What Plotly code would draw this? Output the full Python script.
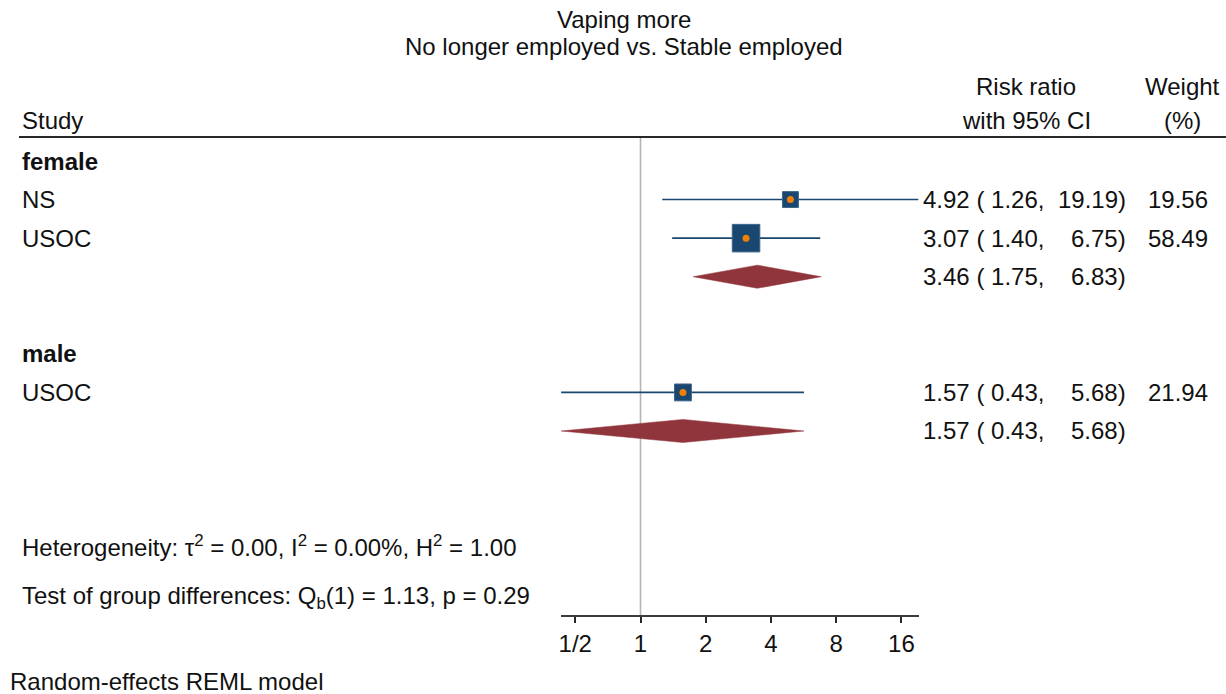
import numpy as np
import plotly.graph_objects as go

# study level data
groups = ['female', 'female', 'male']
studies = ['NS', 'USOC', 'USOC']
rr = [4.92, 3.07, 1.57]
rr_lo = [1.26, 1.40, 0.43]
rr_hi = [19.19, 6.75, 5.68]
weight = [19.56, 58.49, 21.94]

# subgroup (random-effects) summaries
group_names = ['female', 'male']
g_rr = [3.46, 1.57]
g_lo = [1.75, 0.43]
g_hi = [6.83, 5.68]

tick_vals = [0.5, 1, 2, 4, 8, 16]
tick_text = ['1/2', '1', '2', '4', '8', '16']

W, H = 1226, 694
FONT = 'Liberation Sans, Arial, sans-serif'
NAVY = 'rgb(26,71,111)'
MAROON = 'rgb(144,53,59)'
ORANGE = 'rgb(238,128,8)'
FS = 24

# row layout: group header, studies, diamond, blank line
rows = []  # (kind, index)
for gi, g in enumerate(group_names):
    rows.append(('head', gi))
    for si, sg in enumerate(groups):
        if sg == g:
            rows.append(('study', si))
    rows.append(('diamond', gi))
    rows.append(('blank', None))

study_row = {}
group_row = {}
head_row = {}
for r, (kind, idx) in enumerate(rows):
    if kind == 'study':
        study_row[idx] = r
    elif kind == 'diamond':
        group_row[idx] = r
    elif kind == 'head':
        head_row[idx] = r

# pixel helpers for the layout (not data)
def px(x):
    return x / W

def py(y):
    return 1 - y / H

row0_px, row_step = 161, 38.57
top_px, axis_px = 137, 615
y_top = (top_px - row0_px) / row_step
y_bot = (axis_px - row0_px) / row_step

fig = go.Figure()

# confidence interval lines
cx, cy = [], []
for i in range(len(studies)):
    cx += [rr_lo[i], rr_hi[i], None]
    cy += [study_row[i], study_row[i], None]
fig.add_trace(go.Scatter(x=cx, y=cy, mode='lines', line=dict(color=NAVY, width=1.6),
                         hoverinfo='skip', cliponaxis=False))

# weight boxes
fig.add_trace(go.Scatter(
    x=rr, y=[study_row[i] for i in range(len(studies))], mode='markers',
    marker=dict(symbol='square', color=NAVY, opacity=1,
                size=[3.6 * np.sqrt(w) for w in weight],
                line=dict(color='rgb(60,100,140)', width=1)),
    hoverinfo='skip', cliponaxis=False))
fig.add_trace(go.Scatter(
    x=rr, y=[study_row[i] for i in range(len(studies))], mode='markers',
    marker=dict(symbol='circle', color=ORANGE, size=7, opacity=1),
    hoverinfo='skip', cliponaxis=False))

# subgroup diamonds
h = 0.3
for gi in range(len(group_names)):
    r = group_row[gi]
    fig.add_trace(go.Scatter(
        x=[g_lo[gi], g_rr[gi], g_hi[gi], g_rr[gi], g_lo[gi]],
        y=[r, r - h, r, r + h, r],
        mode='lines', fill='toself', fillcolor=MAROON,
        line=dict(color=MAROON, width=0.5), hoverinfo='skip', cliponaxis=False))

# line of no effect
fig.add_shape(type='line', xref='x', yref='y', x0=1, x1=1, y0=y_top, y1=y_bot,
              line=dict(color='rgb(180,180,180)', width=1.6), layer='below')

# header rule
fig.add_shape(type='line', xref='paper', yref='paper', x0=px(17), x1=1,
              y0=py(top_px), y1=py(top_px), line=dict(color='rgb(40,40,40)', width=2))

ann = []

def text(x, y, s, xanchor='left', yref='paper', size=FS, bold=False):
    if bold:
        s = '<b>' + s + '</b>'
    ann.append(dict(x=x, y=y, xref='paper', yref=yref, text=s, showarrow=False,
                    xanchor=xanchor, yanchor='middle',
                    font=dict(family=FONT, size=size, color='#111')))

# titles
text(px(623), py(20), 'Vaping more', xanchor='center')
text(px(623), py(46), 'No longer employed vs. Stable employed', xanchor='center')

# column headers
text(px(18), py(120), 'Study')
text(px(1026), py(87), 'Risk ratio', xanchor='center')
text(px(1026), py(120), 'with 95% CI', xanchor='center')
text(px(1182), py(87), 'Weight', xanchor='center')
text(px(1182), py(120), '(%)', xanchor='center')

# rows
for gi, g in enumerate(group_names):
    text(px(18), head_row[gi], g, yref='y', bold=True)
    r = group_row[gi]
    text(px(921), r, f'{g_rr[gi]:.2f} ( {g_lo[gi]:.2f},', yref='y')
    text(px(1128), r, f'{g_hi[gi]:.2f})', xanchor='right', yref='y')
for i in range(len(studies)):
    r = study_row[i]
    text(px(18), r, studies[i], yref='y')
    text(px(921), r, f'{rr[i]:.2f} ( {rr_lo[i]:.2f},', yref='y')
    text(px(1128), r, f'{rr_hi[i]:.2f})', xanchor='right', yref='y')
    text(px(1210), r, f'{weight[i]:.2f}', xanchor='right', yref='y')

# footnotes
text(px(18), py(546), 'Heterogeneity: τ<sup>2</sup> = 0.00, I<sup>2</sup> = 0.00%, H<sup>2</sup> = 1.00')
text(px(18), py(597), 'Test of group differences: Q<sub>b</sub>(1) = 1.13, p = 0.29')
text(px(6), py(681), 'Random-effects REML model')

lx0, lx1 = np.log10(min(rr_lo + g_lo)), np.log10(max(rr_hi + g_hi))

fig.update_layout(
    width=W, height=H, margin=dict(l=0, r=0, t=0, b=0),
    paper_bgcolor='white', plot_bgcolor='white', showlegend=False,
    annotations=ann,
    xaxis=dict(type='log', range=[lx0, lx1], domain=[px(560), px(918)],
               tickvals=tick_vals, ticktext=tick_text, ticks='outside', ticklen=6,
               tickwidth=1.5, tickcolor='rgb(40,40,40)', showline=True,
               linecolor='rgb(60,60,60)', linewidth=1.5, showgrid=False, zeroline=False,
               tickfont=dict(family=FONT, size=FS, color='#111')),
    yaxis=dict(range=[y_bot, y_top], domain=[py(axis_px), py(top_px)],
               showticklabels=False, showgrid=False, zeroline=False, showline=False,
               ticks=''),
)

fig.write_html('out.html', config={'displayModeBar': False},
               post_script="document.body.style.margin='0';document.body.style.overflow='hidden';")
